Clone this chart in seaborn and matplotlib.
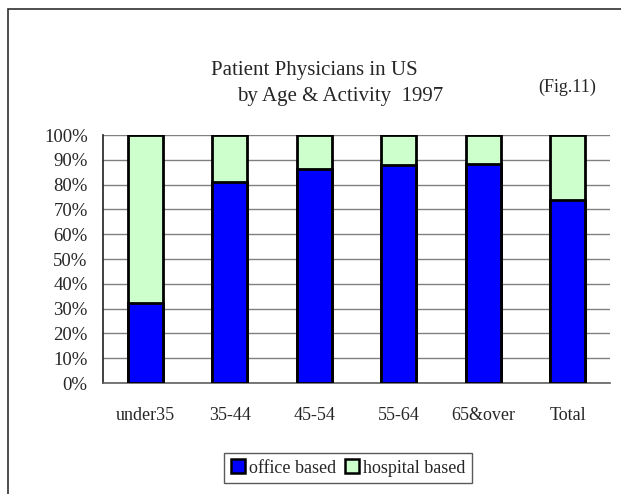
import numpy as np
import pandas as pd
import matplotlib
matplotlib.use('Agg')
import matplotlib.pyplot as plt
import seaborn as sns
from matplotlib.patches import Patch, Rectangle
from matplotlib.ticker import PercentFormatter, FixedLocator

# Data (share of office based physicians)
categories = ['under35', '35-44', '45-54', '55-64', '65&over', 'Total']
office_based = [0.322, 0.810, 0.864, 0.880, 0.882, 0.738]
hospital_based = [1 - v for v in office_based]

blue = '#0000FF'
green = '#CCFFCC'

sns.set_style('white')
plt.rcParams['font.family'] = ['Liberation Serif', 'DejaVu Serif']

df = pd.DataFrame({'category': categories,
                   'office': office_based,
                   'total': np.add(office_based, hospital_based)})

fig = plt.figure(figsize=(6.21, 4.94), dpi=100)
ax = fig.add_axes([103 / 621, 1 - 383 / 494, 507 / 621, 248 / 494])

# stacked: full bar in green, office share in blue on top of it
sns.barplot(data=df, x='category', y='total', color=green, width=0.41,
            edgecolor='black', linewidth=2.0, saturation=1, ax=ax, zorder=3)
sns.barplot(data=df, x='category', y='office', color=blue, width=0.41,
            edgecolor='black', linewidth=2.0, saturation=1, ax=ax, zorder=4)

ax.set_xlim(-0.5, len(categories) - 0.5)
ax.set_ylim(0, 1)
ax.set_xlabel('')
ax.set_ylabel('')
ax.yaxis.set_major_locator(FixedLocator(np.arange(0, 1.01, 0.1)))
ax.yaxis.set_major_formatter(PercentFormatter(1.0, decimals=0))
ax.yaxis.grid(True, color='#808080', linewidth=1.0, zorder=0)
ax.set_axisbelow(True)

ax.xaxis.set_minor_locator(FixedLocator(np.arange(-0.5, len(categories), 1.0)))
ax.tick_params(axis='x', which='major', length=0, pad=17, labelsize=13)
ax.tick_params(axis='x', which='minor', direction='in', length=4,
               width=1, color='#404040')
ax.tick_params(axis='y', direction='in', length=5, width=1,
               color='#404040', pad=11, labelsize=13.5)

for side in ['top', 'right']:
    ax.spines[side].set_visible(False)
ax.spines['left'].set_color('#202020')
ax.spines['bottom'].set_color('#606060')
ax.spines['left'].set_linewidth(1.2)
ax.spines['bottom'].set_linewidth(1.2)

# titles
fig.text(211 / 621, 1 - 71 / 494, 'Patient Physicians in US',
         fontsize=15, ha='left', va='center')
fig.text(237 / 621, 1 - 97 / 494, 'by Age & Activity  1997',
         fontsize=15, ha='left', va='center')
fig.text(567 / 621, 1 - 87 / 494, '(Fig.11)',
         fontsize=13, ha='center', va='center')

# outer chart frame (continues past the right and bottom edges)
fig.patches.append(Rectangle((8 / 621, -0.1), 1.2, 1.1 - 9 / 494,
                             transform=fig.transFigure, fill=False,
                             edgecolor='#303030', linewidth=1.2))

handles = [Patch(facecolor=blue, edgecolor='black', linewidth=1.8, label='office based'),
           Patch(facecolor=green, edgecolor='black', linewidth=1.8, label='hospital based')]
leg = fig.legend(handles=handles, loc='center', bbox_to_anchor=(348 / 621, 1 - 468 / 494),
                 ncol=2, fontsize=13, frameon=True, fancybox=False,
                 edgecolor='#303030', handlelength=0.8, handleheight=0.8,
                 handletextpad=0.2, columnspacing=0.5, borderpad=0.35,
                 borderaxespad=0)
leg.get_frame().set_linewidth(1.0)

fig.savefig('out.png', dpi=100)
